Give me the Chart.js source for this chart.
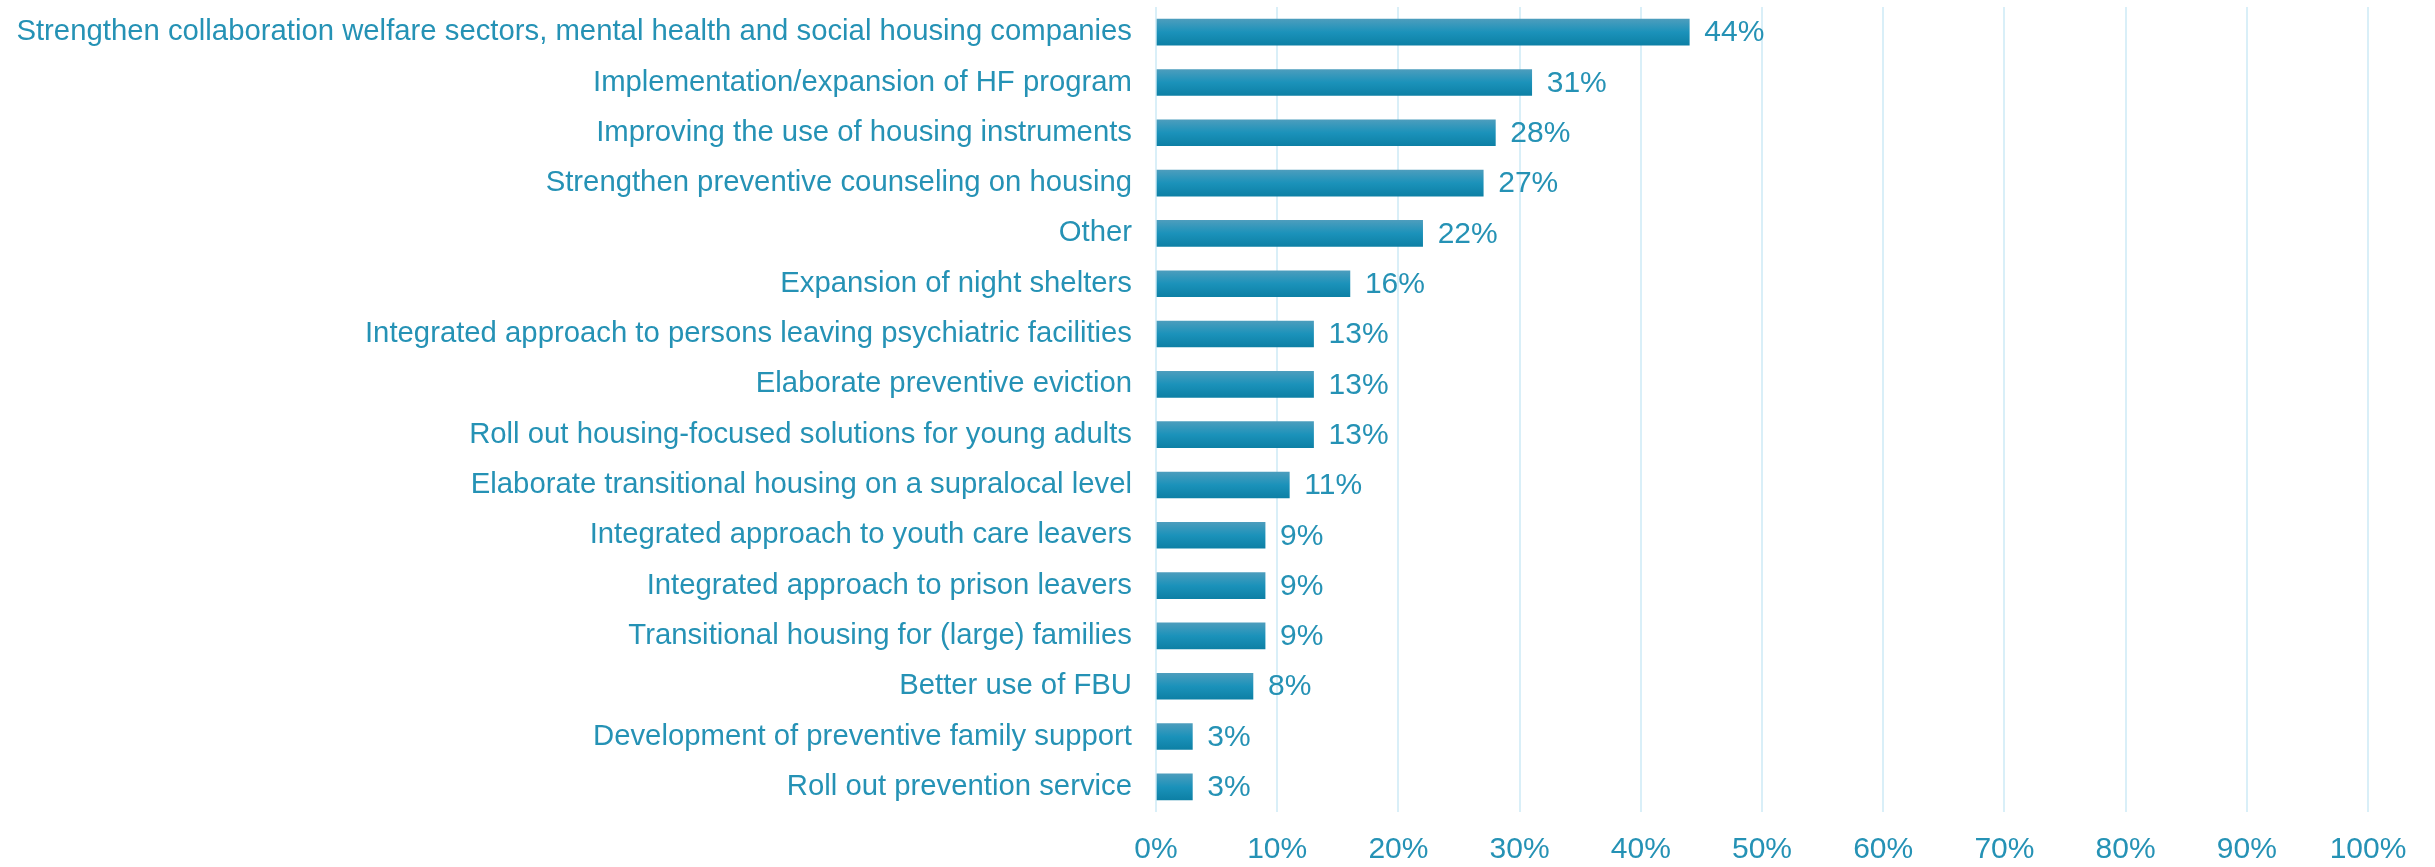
<!DOCTYPE html>
<html>
<head>
<meta charset="utf-8">
<script src="https://cdn.jsdelivr.net/npm/chart.js@4.4.1/dist/chart.umd.min.js"></script>
<style>
  html, body { margin: 0; padding: 0; background: #fff; }
  #wrap { width: 2435px; height: 867px; position: relative; }
</style>
</head>
<body>
<div id="wrap"><canvas id="c"></canvas></div>
<script>
var categories = [
  "Strengthen collaboration welfare sectors, mental health and social housing companies",
  "Implementation/expansion of HF program",
  "Improving the use of housing instruments",
  "Strengthen preventive counseling on housing",
  "Other",
  "Expansion of night shelters",
  "Integrated approach to persons leaving psychiatric facilities",
  "Elaborate preventive eviction",
  "Roll out housing-focused solutions for young adults",
  "Elaborate transitional housing on a supralocal level",
  "Integrated approach to youth care leavers",
  "Integrated approach to prison leavers",
  "Transitional housing for (large) families",
  "Better use of FBU",
  "Development of preventive family support",
  "Roll out prevention service"
];
var values = [44, 31, 28, 27, 22, 16, 13, 13, 13, 11, 9, 9, 9, 8, 3, 3];
var xTicks = [0, 10, 20, 30, 40, 50, 60, 70, 80, 90, 100];

var TEXT = "#2592b5";
var GRID = "#d9eff8";
var FONT = "'Liberation Sans', Arial, sans-serif";
var BAR_T = 26;

// vertical gradient per bar, positioned from the category scale
function barFill(ctx) {
  var chart = ctx.chart;
  var y = chart.scales && chart.scales.y;
  var cy = y ? y.getPixelForValue(ctx.dataIndex) : NaN;
  if (!isFinite(cy)) return "#1b92ba";
  var g = chart.ctx.createLinearGradient(0, cy - BAR_T / 2, 0, cy + BAR_T / 2);
  g.addColorStop(0, "#4c9dbd");
  g.addColorStop(0.5, "#1b92ba");
  g.addColorStop(1, "#0d80a5");
  return g;
}

var valueLabels = {
  id: "valueLabels",
  afterDatasetsDraw: function (chart) {
    var c = chart.ctx;
    var meta = chart.getDatasetMeta(0);
    c.save();
    c.font = "30px " + FONT;
    c.fillStyle = TEXT;
    c.textAlign = "left";
    c.textBaseline = "middle";
    meta.data.forEach(function (bar, i) {
      c.fillText(values[i] + "%", bar.x + 15, bar.y + 1);
    });
    c.restore();
  }
};

function noPad(s) { s.paddingTop = 0; s.paddingBottom = 0; s.paddingLeft = 0; s.paddingRight = 0; }

Chart.defaults.font.family = FONT;
Chart.defaults.color = TEXT;

new Chart(document.getElementById("c"), {
  type: "bar",
  data: {
    labels: categories,
    datasets: [{ data: values, backgroundColor: barFill, barThickness: BAR_T, borderWidth: 0 }]
  },
  options: {
    indexAxis: "y",
    responsive: true,
    maintainAspectRatio: false,
    animation: false,
    layout: { padding: { top: 7, right: 67, left: 0, bottom: 0 } },
    plugins: { legend: { display: false }, tooltip: { enabled: false } },
    scales: {
      x: {
        min: 0, max: 100,
        afterBuildTicks: function (s) { s.ticks = xTicks.map(function (v) { return { value: v }; }); },
        afterFit: function (s) { s.height = 55; noPad(s); },
        ticks: { callback: function (v) { return v + "%"; }, font: { size: 30 }, color: TEXT, padding: 20, maxRotation: 0 },
        grid: { color: GRID, lineWidth: 2, drawTicks: false },
        border: { display: false }
      },
      y: {
        afterFit: function (s) { s.width = 1156; noPad(s); },
        ticks: { font: { size: 29.3 }, color: TEXT, padding: 24, autoSkip: false },
        grid: { display: false, drawTicks: false },
        border: { display: false }
      }
    }
  },
  plugins: [valueLabels]
});
</script>
</body>
</html>
